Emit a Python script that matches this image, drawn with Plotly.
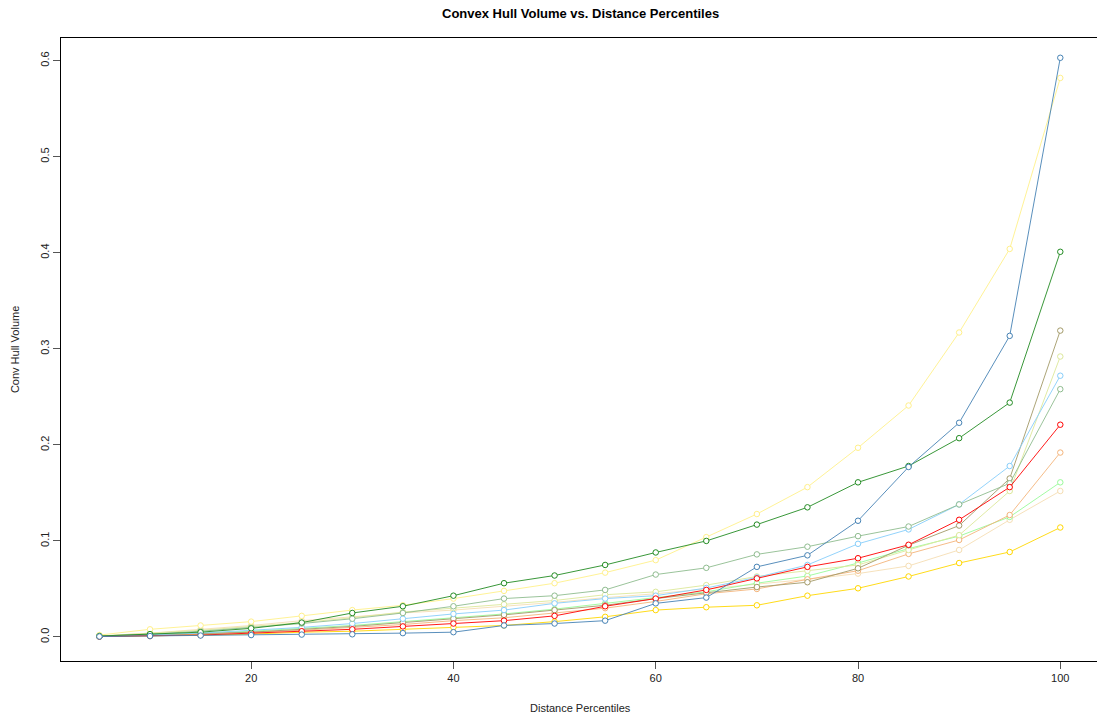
import plotly.graph_objects as go

# Distance percentiles (x) and convex hull volume per group (y)
percentiles = [5, 10, 15, 20, 25, 30, 35, 40, 45, 50, 55, 60, 65, 70, 75, 80, 85, 90, 95, 100]

vol_steelblue = [0.0005, 0.001, 0.0015, 0.002, 0.0025, 0.0028, 0.004, 0.005, 0.012, 0.014,
                 0.017, 0.035, 0.041, 0.073, 0.085, 0.121, 0.177, 0.223, 0.3135, 0.603]
vol_khaki = [0.002, 0.008, 0.012, 0.016, 0.022, 0.028, 0.033, 0.040, 0.048, 0.056,
             0.067, 0.080, 0.104, 0.128, 0.156, 0.197, 0.241, 0.317, 0.404, 0.582]
vol_forest = [0.001, 0.003, 0.005, 0.009, 0.015, 0.025, 0.032, 0.043, 0.056, 0.064,
              0.075, 0.088, 0.100, 0.117, 0.135, 0.161, 0.178, 0.207, 0.244, 0.401]
vol_seagreen = [0.001, 0.003, 0.006, 0.010, 0.014, 0.019, 0.025, 0.032, 0.040, 0.043,
                0.049, 0.065, 0.072, 0.086, 0.094, 0.105, 0.115, 0.138, 0.160, 0.258]
vol_skyblue = [0.0005, 0.002, 0.004, 0.007, 0.010, 0.014, 0.019, 0.024, 0.028, 0.035,
               0.040, 0.043, 0.051, 0.062, 0.075, 0.097, 0.112, 0.138, 0.178, 0.272]
vol_red = [0.0005, 0.001, 0.002, 0.004, 0.006, 0.008, 0.011, 0.014, 0.017, 0.022,
           0.032, 0.040, 0.049, 0.061, 0.073, 0.082, 0.096, 0.122, 0.156, 0.221]
vol_olive = [0.0005, 0.002, 0.003, 0.005, 0.008, 0.011, 0.015, 0.019, 0.023, 0.028,
             0.033, 0.040, 0.046, 0.052, 0.057, 0.0715, 0.0955, 0.116, 0.165, 0.319]
vol_lime = [0.001, 0.004, 0.007, 0.011, 0.015, 0.020, 0.026, 0.030, 0.034, 0.038,
            0.044, 0.047, 0.054, 0.063, 0.069, 0.075, 0.0906, 0.106, 0.152, 0.292]
vol_palegreen = [0.0005, 0.002, 0.004, 0.006, 0.009, 0.012, 0.016, 0.020, 0.024, 0.029,
                 0.035, 0.041, 0.047, 0.056, 0.0635, 0.077, 0.092, 0.105, 0.125, 0.161]
vol_sandy = [0.0005, 0.0015, 0.003, 0.005, 0.007, 0.010, 0.013, 0.017, 0.020, 0.025,
             0.030, 0.037, 0.045, 0.050, 0.060, 0.069, 0.0865, 0.101, 0.127, 0.192]
vol_wheat = [0.001, 0.004, 0.008, 0.012, 0.017, 0.021, 0.025, 0.028, 0.032, 0.036,
             0.041, 0.045, 0.050, 0.055, 0.060, 0.066, 0.074, 0.0906, 0.122, 0.152]
vol_gold = [0.0005, 0.001, 0.002, 0.003, 0.005, 0.006, 0.008, 0.010, 0.012, 0.016,
            0.021, 0.028, 0.031, 0.033, 0.043, 0.0507, 0.063, 0.077, 0.0885, 0.114]

series = [
    (vol_wheat, "#F5DEB3"),
    (vol_palegreen, "#98FB98"),
    (vol_sandy, "#F4B47A"),
    (vol_gold, "#FFD700"),
    (vol_lime, "#DCE89A"),
    (vol_olive, "#A39A68"),
    (vol_skyblue, "#87CEFA"),
    (vol_seagreen, "#8FBC8F"),
    (vol_red, "#FF0000"),
    (vol_khaki, "#FFF08A"),
    (vol_forest, "#228B22"),
    (vol_steelblue, "#4682B4"),
]

fig = go.Figure()
for values, color in series:
    fig.add_trace(go.Scatter(
        x=percentiles, y=values, mode="lines+markers",
        line=dict(color=color, width=0.9),
        marker=dict(symbol="circle", size=5.5, color="white",
                    line=dict(color=color, width=1)),
        showlegend=False, hoverinfo="x+y",
    ))

axis_font = dict(family="Liberation Sans, Arial, sans-serif", size=11, color="#222")

fig.update_layout(
    width=1097, height=719,
    margin=dict(l=61, r=0, t=38, b=58),
    paper_bgcolor="white", plot_bgcolor="white",
    font=axis_font,
    xaxis=dict(
        range=[1.2, 103.63], tickvals=[20, 40, 60, 80, 100],
        showgrid=False, zeroline=False,
        showline=True, linecolor="black", linewidth=1, mirror=True,
        ticks="outside", ticklen=7, tickcolor="#555", tickfont=axis_font,
    ),
    yaxis=dict(
        range=[-0.025, 0.6236], tickvals=[0, 0.1, 0.2, 0.3, 0.4, 0.5, 0.6],
        tickformat=".1f", tickangle=-90,
        showgrid=False, zeroline=False,
        showline=True, linecolor="black", linewidth=1, mirror=True,
        ticks="outside", ticklen=7, tickcolor="#555", tickfont=axis_font,
    ),
    annotations=[
        dict(text="<b>Convex Hull Volume vs. Distance Percentiles</b>",
             xref="paper", yref="paper", x=0.501, y=1.040,
             xanchor="center", yanchor="middle", showarrow=False,
             font=dict(family="Liberation Sans, Arial, sans-serif", size=13, color="black")),
        dict(text="Distance Percentiles",
             xref="paper", yref="paper", x=0.501, y=-0.0754,
             xanchor="center", yanchor="middle", showarrow=False,
             font=axis_font),
        dict(text="Conv Hull Volume",
             xref="paper", yref="paper", x=-0.0444, y=0.499, textangle=-90,
             xanchor="center", yanchor="middle", showarrow=False,
             font=axis_font),
    ],
)

fig.write_html("out.html")
